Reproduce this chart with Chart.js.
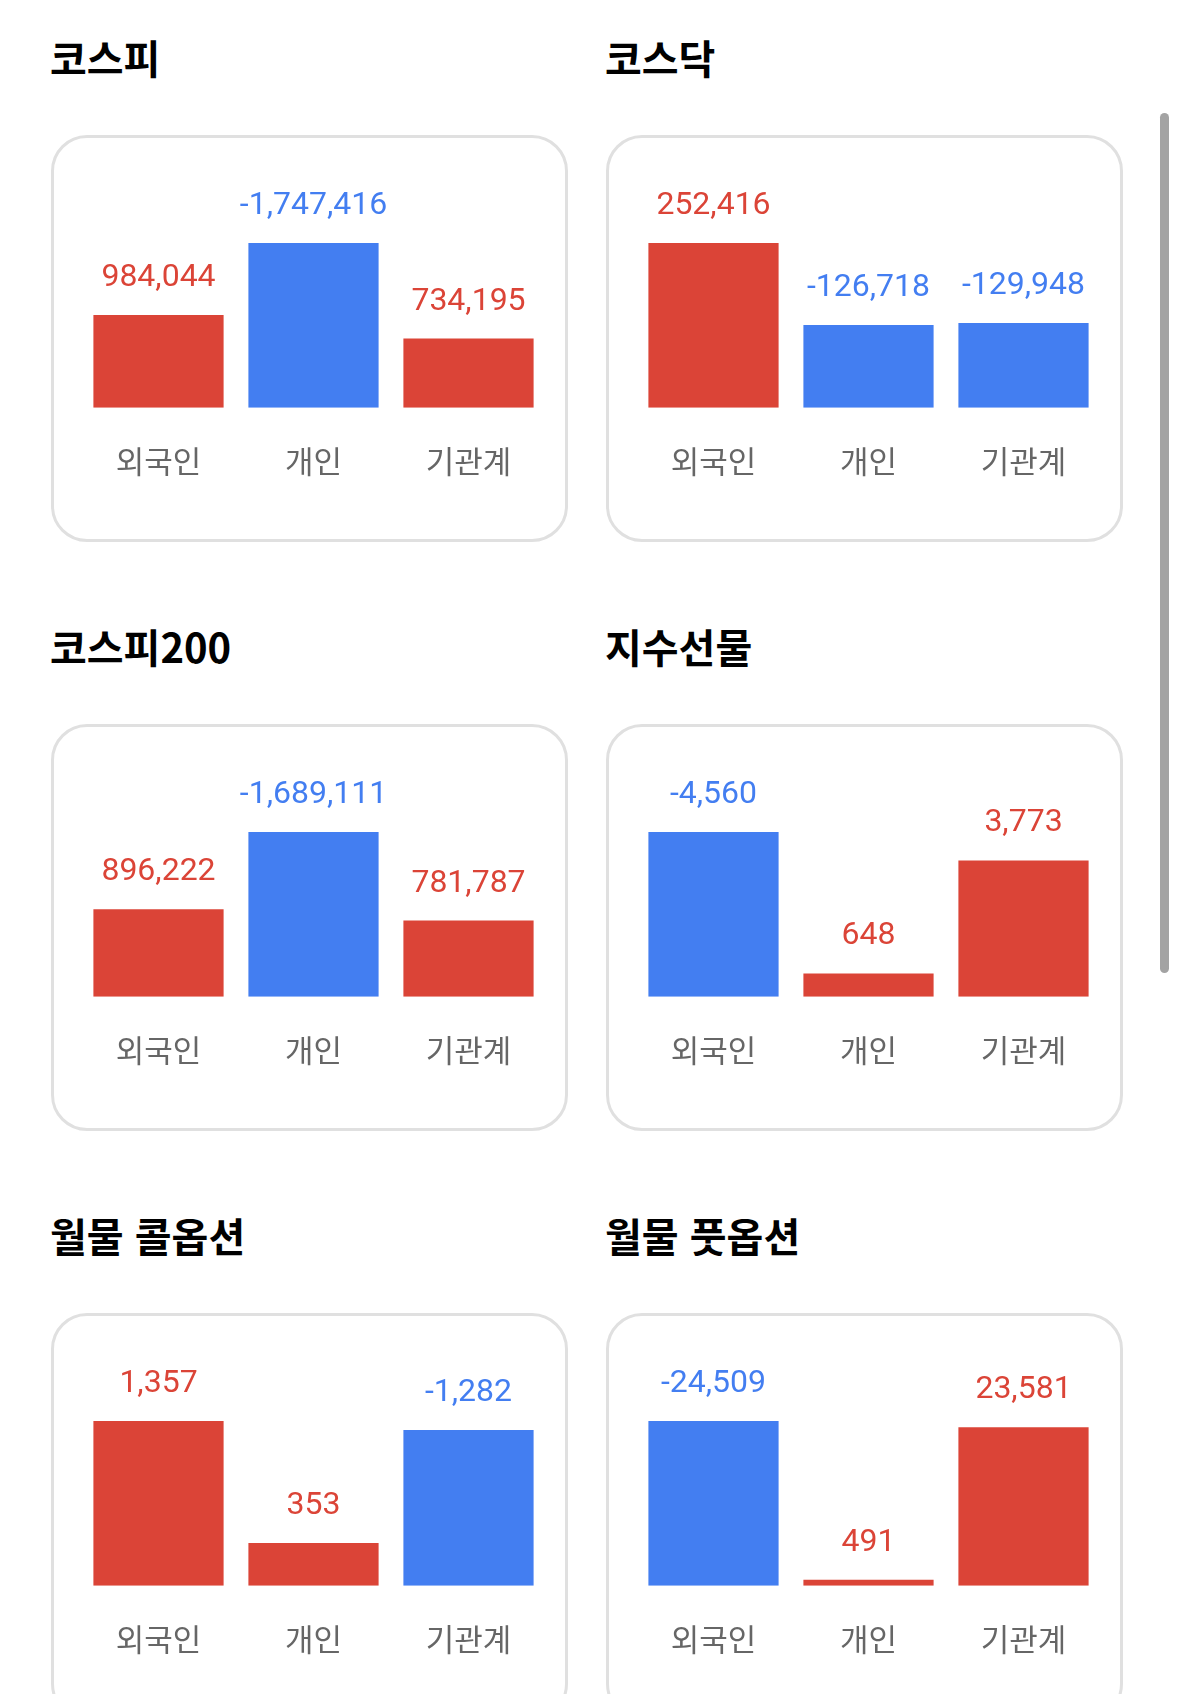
<!DOCTYPE html>
<html lang="ko">
<head>
  <meta charset="UTF-8">
  <title>투자자별 매매동향</title>
  <style>
    html, body {
      margin: 0;
      padding: 0;
      background: #fff;
      overflow: hidden;
    }
    body {
      width: 1178px;
      height: 1694px;
      position: relative;
    }
    .grid {
      position: absolute;
      left: 51px;
      top: 35px;
      display: grid;
      grid-template-columns: 517px 517px;
      column-gap: 38px;
      row-gap: 82px;
    }
    h2 {
      font-family: "Noto Sans CJK KR", sans-serif;
      font-weight: 700;
      font-size: 40px;
      line-height: 44px;
      margin: 0 0 56px -1px;
      color: #000;
    }
    .card {
      box-sizing: border-box;
      width: 517px;
      height: 407px;
      border: 3px solid #e0e0e0;
      border-radius: 36px;
      position: relative;
      background: #fff;
    }
    .card canvas {
      position: absolute;
      left: 0;
      top: 0;
    }
    .scrollbar {
      position: absolute;
      left: 1160px;
      top: 113px;
      width: 9px;
      height: 860px;
      border-radius: 5px;
      background: #a3a3a3;
    }
  </style>
</head>
<body>
  <div class="grid" id="grid"></div>
  <div class="scrollbar"></div>

  <script src="https://cdn.jsdelivr.net/npm/chart.js"></script>
  <script>
    // data
    const categories = ['외국인', '개인', '기관계'];
    const titles = ['코스피', '코스닥', '코스피200', '지수선물', '월물 콜옵션', '월물 풋옵션'];
    const kospi = [984044, -1747416, 734195];
    const kosdaq = [252416, -126718, -129948];
    const kospi200 = [896222, -1689111, 781787];
    const futures = [-4560, 648, 3773];
    const callOptions = [1357, 353, -1282];
    const putOptions = [-24509, 491, 23581];
    const allSeries = [kospi, kosdaq, kospi200, futures, callOptions, putOptions];

    const RED = '#db4437';
    const BLUE = '#437ef1';

    // draws the signed value above each bar
    const valueLabels = {
      id: 'valueLabels',
      afterDatasetsDraw(chart) {
        const ctx = chart.ctx;
        const raw = chart.data.datasets[0].rawValues;
        const meta = chart.getDatasetMeta(0);
        ctx.save();
        ctx.font = '32px Roboto, sans-serif';
        ctx.textAlign = 'center';
        ctx.textBaseline = 'middle';
        meta.data.forEach((bar, i) => {
          ctx.fillStyle = raw[i] < 0 ? BLUE : RED;
          ctx.fillText(raw[i].toLocaleString('en-US'), bar.x, bar.y - 37);
        });
        ctx.restore();
      }
    };

    const grid = document.getElementById('grid');

    allSeries.forEach((values, idx) => {
      const section = document.createElement('div');
      const h = document.createElement('h2');
      h.textContent = titles[idx];
      const card = document.createElement('div');
      card.className = 'card';
      const canvas = document.createElement('canvas');
      canvas.width = 511;
      canvas.height = 401;
      card.appendChild(canvas);
      section.appendChild(h);
      section.appendChild(card);
      grid.appendChild(section);

      const maxAbs = Math.max(...values.map(v => Math.abs(v)));

      new Chart(canvas.getContext('2d'), {
        type: 'bar',
        data: {
          labels: categories,
          datasets: [{
            data: values.map(v => Math.abs(v)),
            rawValues: values,
            backgroundColor: values.map(v => v < 0 ? BLUE : RED),
            barPercentage: 0.84,
            categoryPercentage: 1,
            minBarLength: 6
          }]
        },
        options: {
          responsive: false,
          animation: false,
          layout: { padding: { left: 27, right: 19, top: 105, bottom: 24 } },
          plugins: { legend: { display: false }, tooltip: { enabled: false } },
          scales: {
            x: {
              grid: { display: false, drawTicks: false },
              border: { display: false },
              ticks: {
                color: '#666',
                padding: 35,
                font: { family: '"Noto Sans CJK KR", sans-serif', size: 31, lineHeight: 1.2 }
              }
            },
            y: { display: false, min: 0, max: maxAbs }
          }
        },
        plugins: [valueLabels]
      });
    });
  </script>
</body>
</html>
